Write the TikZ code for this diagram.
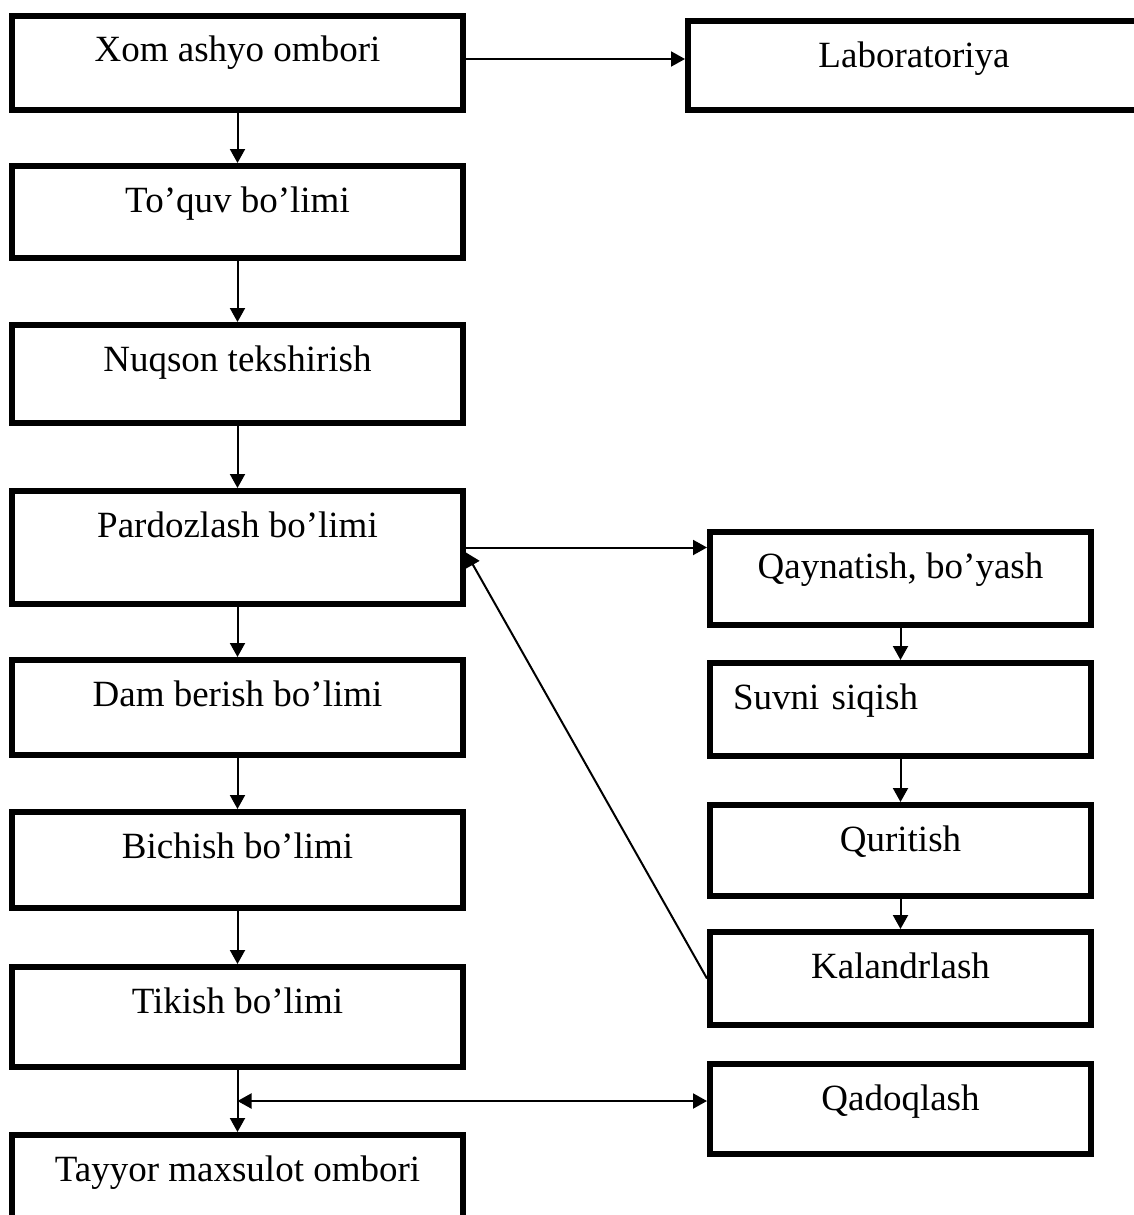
\documentclass[tikz,border=0pt]{standalone}
\usepackage{fontspec}
\setmainfont{Liberation Serif}
\usetikzlibrary{arrows.meta}
\usetikzlibrary{calc}

\tikzset{
  box/.style={draw, line width=6pt, outer sep=3pt, inner ysep=0pt, anchor=north,
    text height=46pt, font=\fontsize{37}{44}\selectfont},
  lbox/.style={box, minimum width=451pt},
  rbox/.style={box, minimum width=381pt},
  arr/.style={line width=2pt, -{Triangle[length=14pt,width=15pt]}},
  darr/.style={line width=2pt, {Triangle[length=14pt,width=15pt]}-{Triangle[length=14pt,width=15pt]}}
}

\begin{document}
\begin{tikzpicture}[x=1pt,y=-1pt]
          \useasboundingbox (0,0) rectangle (1133,1215);

          % left column
          \node [lbox, text depth=48pt] (xom) at (237.5,13) {Xom ashyo ombori};
          \node [lbox, text depth=46pt] (toquv) at (237.5,163) {To’quv bo’limi};
          \node [lbox, text depth=52pt] (nuqson) at (237.5,322) {Nuqson tekshirish};
          \node [lbox, text depth=67pt] (pard) at (237.5,488) {Pardozlash bo’limi};
          \node [lbox, text depth=49pt] (dam) at (237.5,657) {Dam berish bo’limi};
          \node [lbox, text depth=50pt] (bichish) at (237.5,809) {Bichish bo’limi};
          \node [lbox, text depth=54pt] (tikish) at (237.5,964) {Tikish bo’limi};
          \node [lbox, text depth=54pt] (tayyor) at (237.5,1132) {Tayyor maxsulot ombori};

          % right column
          \node [box, minimum width=452pt, text depth=43pt] (lab) at (914,18) {Laboratoriya};
          \node [rbox, text depth=47pt] (qayn) at (900.5,529) {Qaynatish, bo’yash};
          \node [rbox, text depth=47pt, text width=335pt, inner xsep=23pt, align=left] (suvni) at (900.5,660) {Suvni siqish};
          \node [rbox, text depth=45pt] (qurit) at (900.5,802) {Quritish};
          \node [rbox, text depth=47pt] (kal) at (900.5,929) {Kalandrlash};
          \node [rbox, text depth=44pt] (qadoq) at (900.5,1061) {Qadoqlash};

          \coordinate (labin) at ([yshift=4pt]xom.east);
          \coordinate (mid) at ($(tikish.south)!0.5!(tayyor.north)$);

          \draw [arr] (labin) -- (labin -| lab.west);
          \draw [arr] (xom) -- (toquv);
          \draw [arr] (toquv) -- (nuqson);
          \draw [arr] (nuqson) -- (pard);
          \draw [arr] (pard) -- (dam);
          \draw [arr] (dam) -- (bichish);
          \draw [arr] (bichish) -- (tikish);
          \draw [arr] (tikish) -- (tayyor);

          \draw [arr] (pard.east) -- (pard.east -| qayn.west);
          \draw [arr] (qayn) -- (suvni);
          \draw [arr] (suvni) -- (qurit);
          \draw [arr] (qurit) -- (kal);
          \draw [arr] (kal.west) -- ([yshift=-5pt]pard.east);

          \draw [darr] (mid) -- (mid -| qadoq.west);
        \end{tikzpicture}
\end{document}
